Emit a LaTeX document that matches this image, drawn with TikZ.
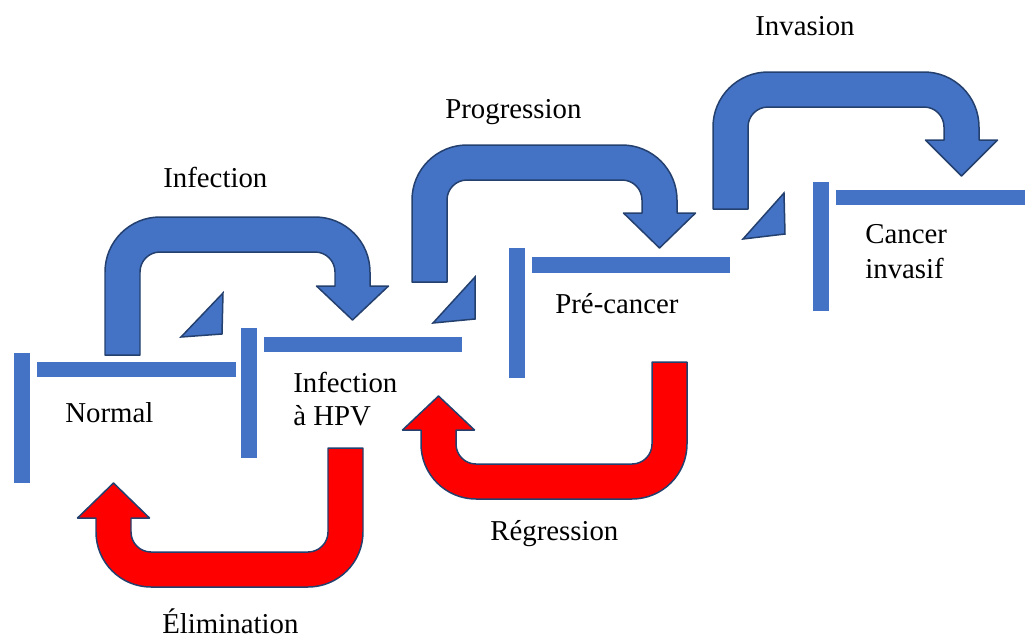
\documentclass[tikz,border=0pt]{standalone}
\usepackage{fontspec}
\setmainfont{Liberation Serif}
\definecolor{barblue}{HTML}{4472C4}
\definecolor{edgenavy}{HTML}{23406E}
\definecolor{redfill}{HTML}{FF0000}
\tikzset{
  bluearrow/.style={fill=barblue,draw=edgenavy,line width=0.85pt,line join=round},
  redarrow/.style={fill=redfill,draw=edgenavy,line width=0.85pt,line join=round},
  bar/.style={fill=barblue},
  tri/.style={fill=barblue,draw=edgenavy,line width=0.85pt,line join=miter},
  lbl/.style={anchor=base west,inner sep=0pt,font=\fontsize{16.4}{20}\selectfont}
}
% blue U-turn: #1 left outer x, #2 bottom y, #3 top y, #4 right outer x, #5 head base y, #6 tip y
\newcommand{\blueUturn}[6]{%
  \draw[bluearrow] (#1,-#2) -- (#1,{-(#3+55)}) arc[start angle=180,end angle=90,radius=55]
    -- ({#4-55},-#3) arc[start angle=90,end angle=0,radius=55]
    -- (#4,-#5) -- ({#4-17.5+36},-#5) -- ({#4-17.5},-#6) -- ({#4-17.5-36},-#5)
    -- ({#4-35},-#5) -- ({#4-35},{-(#3+55)}) arc[start angle=0,end angle=90,radius=20]
    -- ({#1+55},{-(#3+35)}) arc[start angle=90,end angle=180,radius=20]
    -- ({#1+35},-#2) -- cycle;}
% red U-turn: #1 left outer x, #2 head base y, #3 tip y, #4 bottom outer y, #5 right outer x, #6 top y
\newcommand{\redUturn}[6]{%
  \draw[redarrow] ({#5-35},-#6) -- (#5,-#6) -- (#5,{-(#4-55)}) arc[start angle=0,end angle=-90,radius=55]
    -- ({#1+55},-#4) arc[start angle=270,end angle=180,radius=55]
    -- (#1,-#2) -- ({#1+17.5-36},-#2) -- ({#1+17.5},-#3) -- ({#1+17.5+36},-#2)
    -- ({#1+35},-#2) -- ({#1+35},{-(#4-55)}) arc[start angle=180,end angle=270,radius=20]
    -- ({#5-55},{-(#4-35)}) arc[start angle=270,end angle=360,radius=20]
    -- ({#5-35},-#6) -- cycle;}
\begin{document}
\begin{tikzpicture}[x=0.02cm,y=0.02cm]
\useasboundingbox (0,0) rectangle (1025,-637);
% bars
\fill[bar] (14,-353) rectangle (30,-483);
\fill[bar] (37,-362) rectangle (236,-377);
\fill[bar] (241,-328) rectangle (257,-458);
\fill[bar] (264,-337) rectangle (462,-352);
\fill[bar] (509,-248) rectangle (525,-378);
\fill[bar] (532,-257) rectangle (730,-273);
\fill[bar] (813,-182) rectangle (829,-311);
\fill[bar] (836,-190) rectangle (1025,-205);
% triangles
\draw[tri] (223,-293) -- (181,-337) -- (222,-334) -- cycle;
\draw[tri] (475,-277) -- (433,-323) -- (475,-319) -- cycle;
\draw[tri] (784,-193) -- (743,-239) -- (785,-234) -- cycle;
% blue arrows
\blueUturn{105}{355}{217}{370}{286}{320}
\blueUturn{412}{282}{145}{677}{213}{248}
\blueUturn{713}{209}{72}{979}{140}{176}
% red arrows
\redUturn{96}{518}{483}{587}{363}{448}
\redUturn{421}{430}{396}{499}{687}{362}
% labels
\node[lbl] (infection) at (163,-187) {Infection};
\node[lbl] (progression) at (445,-118) {Progression};
\node[lbl] (invasion) at (755,-35) {Invasion};
\node[lbl] (normal) at (65,-422) {Normal};
\node[lbl] (hpv1) at (293,-392) {Infection};
\node[lbl] (hpv2) at (293,-425) {à HPV};
\node[lbl] (precancer) at (555,-313) {Pré-cancer};
\node[lbl] (cancer1) at (865,-243) {Cancer};
\node[lbl] (cancer2) at (865,-278) {invasif};
\node[lbl] (regression) at (490,-540) {Régression};
\node[lbl] (elimination) at (162,-633) {Élimination};
\end{tikzpicture}
\end{document}
